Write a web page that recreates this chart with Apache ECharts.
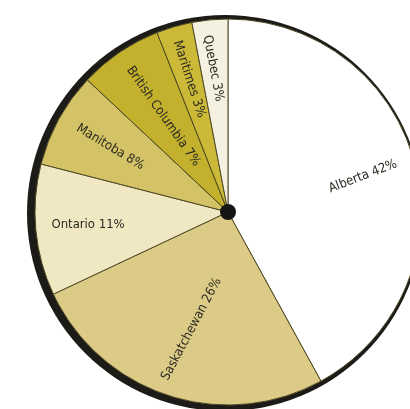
<!DOCTYPE html>
<html>
<head>
<meta charset="utf-8">
<style>
  html, body { margin: 0; padding: 0; background: #ffffff; }
  #chart { width: 410px; height: 409px; }
</style>
<script src="https://cdn.jsdelivr.net/npm/echarts@6/dist/echarts.min.js"></script>
</head>
<body>
<div id="chart"></div>
<script>
// Share of total by region (percent), clockwise from 12 o'clock
const regions = ['Alberta', 'Saskatchewan', 'Ontario', 'Manitoba', 'British Columbia', 'Maritimes', 'Quebec'];
const shares = [42, 26, 11, 8, 7, 3, 3];
const sliceColors = ['#ffffff', '#dccb86', '#efe8c2', '#d3c366', '#c3b12e', '#cbb937', '#f5f1e0'];
// label tilt (degrees) and padding that nudges each label within its slice
const labelTilts = [21, 62, 0, -31, -55, -72, -79];
const labelPads = [[0, 0, 8, 16], [0, 0, 0, 18], [0, 18, 0, 0], [0, 6, 4, 0], [0, 0, 0, 32], [0, 14, 0, 0], [0, 26, 0, 0]];

const center = [228, 212];
const radius = 193;
const font = '"Liberation Sans Narrow", "DejaVu Sans Condensed", "Roboto Condensed", sans-serif';

const sliceData = regions.map((name, i) => ({
  name: name,
  value: shares[i],
  itemStyle: { color: sliceColors[i] }
}));

const labelData = regions.map((name, i) => ({
  name: name,
  value: shares[i],
  label: { rotate: labelTilts[i], padding: labelPads[i] }
}));

const chart = echarts.init(document.getElementById('chart'), null, { renderer: 'canvas' });
chart.setOption({
  animation: false,
  backgroundColor: '#ffffff',
  series: [
    {
      // dark rim behind the pie, heavier on the lower left
      type: 'pie',
      silent: true,
      center: [center[0] - 3, center[1] + 1],
      radius: radius + 5,
      label: { show: false },
      labelLine: { show: false },
      itemStyle: { color: '#1d1b17' },
      data: [{ value: 1, name: 'rim' }],
      z: 1
    },
    {
      type: 'pie',
      silent: true,
      center: center,
      radius: radius,
      startAngle: 90,
      clockwise: true,
      avoidLabelOverlap: false,
      label: { show: false },
      labelLine: { show: false },
      itemStyle: { borderColor: '#4f4a26', borderWidth: 1 },
      data: sliceData,
      z: 2
    },
    {
      // transparent ring that carries the slice labels
      type: 'pie',
      silent: true,
      center: center,
      radius: [64, radius],
      startAngle: 90,
      clockwise: true,
      avoidLabelOverlap: false,
      itemStyle: { color: 'rgba(0,0,0,0)' },
      labelLine: { show: false },
      label: {
        show: true,
        position: 'inside',
        formatter: p => p.name + ' ' + p.value + '%',
        fontFamily: font,
        fontSize: 13,
        color: '#2b2a22'
      },
      data: labelData,
      z: 3
    },
    {
      // hub at the centre
      type: 'pie',
      silent: true,
      center: center,
      radius: 8,
      label: { show: false },
      labelLine: { show: false },
      itemStyle: { color: '#151515' },
      data: [{ value: 1, name: 'hub' }],
      z: 4
    }
  ]
});
</script>
</body>
</html>
